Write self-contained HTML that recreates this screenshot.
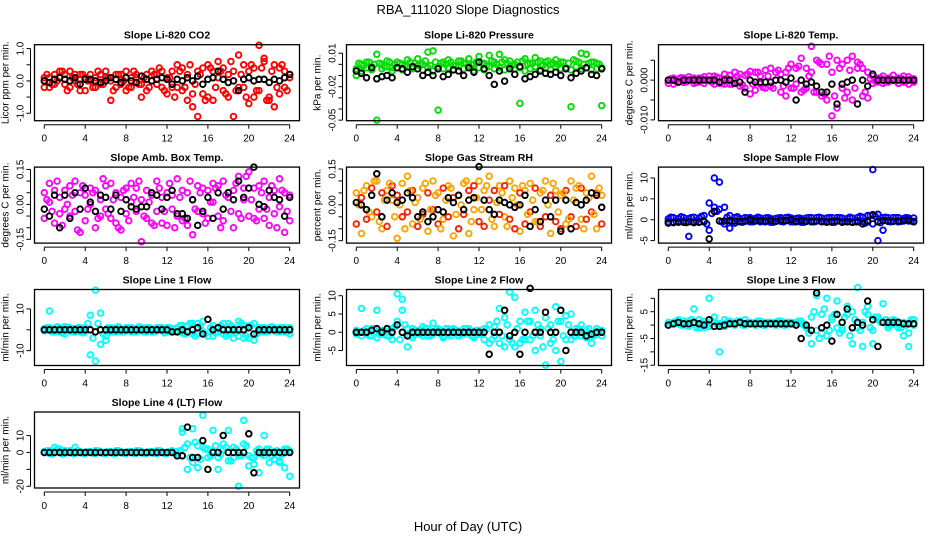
<!DOCTYPE html>
<html><head><meta charset="utf-8"><style>
html,body{margin:0;padding:0;background:#fff;}
svg{display:block;font-family:"Liberation Sans",Arial,sans-serif;}
</style></head><body>
<svg id="chart" width="936" height="540" viewBox="0 0 936 540" xmlns="http://www.w3.org/2000/svg">
<rect width="936" height="540" fill="#fff"/>
<text x="468" y="14" font-size="13" text-anchor="middle">RBA_111020  Slope Diagnostics</text>
<text x="468" y="531" font-size="13" text-anchor="middle">Hour of Day (UTC)</text>
</svg>
<script>
const hours=[0,0.5,1,1.5,2,2.5,3,3.5,4,4.5,5,5.5,6,6.5,7,7.5,8,8.5,9,9.5,10,10.5,11,11.5,12,12.5,13,13.5,14,14.5,15,15.5,16,16.5,17,17.5,18,18.5,19,19.5,20,20.5,21,21.5,22,22.5,23,23.5,24];
const hoursQ=[0.25,0.75,1.25,1.75,2.25,2.75,3.25,3.75,4.25,4.75,5.25,5.75,6.25,6.75,7.25,7.75,8.25,8.75,9.25,9.75,10.25,10.75,11.25,11.75,12.25,12.75,13.25,13.75,14.25,14.75,15.25,15.75,16.25,16.75,17.25,17.75,18.25,18.75,19.25,19.75,20.25,20.75,21.25,21.75,22.25,22.75,23.25,23.75];
const xTicks=[0,4,8,12,16,20,24];

const co2A=[0.1,-0.2,0.2,0.1,-0.1,0.3,0.2,-0.3,0.1,0.0,-0.2,0.2,0.1,-0.6,0.2,-0.1,0.3,-0.2,0.1,-0.5,0.2,0.0,-0.1,0.3,0.1,-0.2,0.5,-0.3,0.2,-0.4,-1.1,0.4,-0.5,0.3,0.6,-0.3,0.2,-1.1,0.8,-0.2,0.3,-0.5,1.1,0.7,-0.6,0.5,-0.4,0.3,0.2];
const co2B=[-0.2,0.1,-0.1,0.3,0.2,-0.2,0.0,0.2,-0.3,0.2,0.1,-0.1,0.3,0.0,-0.2,0.2,-0.3,0.1,0.2,-0.1,-0.3,0.3,0.2,-0.2,-0.4,0.3,-0.2,0.4,-0.6,-0.8,0.3,-0.4,0.5,-0.6,0.1,0.4,-0.5,0.3,-0.2,0.5,-0.7,0.4,-0.3,0.6,-0.5,-0.8,0.4,-0.2,0.1];
const co2C=[0.2,-0.1,0.0,0.3,-0.3,0.1,-0.1,0.2,0.0,-0.2,0.3,-0.1,0.1,-0.3,0.2,0.0,-0.2,0.3,-0.1,0.1,-0.2,0.2,0.4,-0.3,0.1,-0.5,0.3,-0.2,0.5,-0.1,0.2,-0.6,0.4,-0.2,0.3,-0.4,0.6,-0.3,0.2,-0.5,0.5,-0.3,0.4,-0.6,0.3,-0.2,0.5,-0.3];
const co2K=[0.0,-0.05,0.05,0.1,0.05,0.0,0.1,-0.1,0.05,0.05,0.0,-0.05,0.0,0.1,0.05,-0.05,0.1,0.0,-0.05,0.15,0.05,0.0,0.05,0.1,0.05,-0.1,0.05,0.0,0.1,0.0,0.15,-0.1,0.05,0.1,0.3,0.05,-0.05,0.0,-0.3,0.05,0.1,0.0,0.05,0.05,-0.05,0.05,0.0,0.1,0.2];

const presA=[-0.01,0.0,0.002,-0.002,0.009,0.0,0.003,-0.003,0.002,0.0,0.004,-0.002,0.005,0.0,0.011,0.012,-0.041,0.002,0.004,-0.001,0.003,0.001,0.005,0.0,0.007,0.001,0.008,0.002,0.009,0.004,0.003,0.0,-0.035,0.005,0.001,0.006,0.003,0.002,0.0,0.004,0.002,-0.003,-0.038,0.003,0.01,0.009,0.002,0.001,-0.037];
const presB=[-0.004,-0.006,-0.003,-0.005,-0.05,-0.004,-0.002,-0.006,-0.003,-0.005,-0.002,-0.004,-0.001,-0.005,-0.003,-0.006,-0.002,-0.004,-0.003,-0.005,-0.002,-0.004,-0.001,-0.006,-0.003,-0.005,-0.002,-0.004,-0.003,-0.005,-0.002,-0.004,-0.003,-0.006,-0.004,-0.002,-0.005,-0.003,-0.005,-0.002,-0.004,-0.003,-0.005,-0.002,-0.004,-0.003,-0.005,-0.004,-0.003];
const presC=[0.001,-0.001,0.002,0.0,0.001,-0.002,0.002,0.0,0.001,-0.001,0.002,0.001,0.0,0.003,-0.001,0.002,0.001,0.0,0.002,-0.001,0.003,0.001,0.0,0.002,0.001,-0.001,0.003,0.0,0.002,0.001,-0.001,0.002,0.003,0.0,0.001,0.002,-0.001,0.003,0.001,0.0,0.002,0.001,0.004,0.002,0.0,0.001,0.002,0.0];
const presK=[-0.006,-0.008,-0.012,-0.003,-0.013,-0.011,-0.01,-0.012,-0.003,-0.004,-0.007,-0.002,-0.004,-0.01,-0.007,-0.01,-0.004,-0.011,-0.009,-0.005,-0.006,-0.01,-0.003,-0.007,0.002,-0.004,-0.01,-0.018,-0.006,-0.015,-0.004,-0.009,-0.002,-0.013,-0.011,-0.009,-0.006,-0.008,-0.009,-0.007,-0.01,-0.004,-0.012,-0.008,-0.006,-0.003,-0.009,-0.01,-0.004];

const tempA=[0.0,0.0005,-0.0005,0.0005,0.0,0.0005,-0.0005,0.0008,0.0,0.001,0.0005,-0.001,0.0012,0.0,0.0015,-0.002,-0.0035,0.002,0.001,-0.002,0.003,0.0,-0.003,0.002,0.004,-0.001,0.0055,0.003,0.0085,-0.003,0.004,-0.005,-0.009,0.005,0.004,-0.003,0.006,0.003,-0.004,0.002,0.001,0.0005,0.001,0.0005,0.0012,0.0005,0.001,0.0008,0.0003];
const tempB=[-0.0008,-0.001,0.0003,-0.0006,0.0008,-0.0008,0.0005,-0.0008,0.001,-0.001,-0.0008,0.0015,-0.001,0.002,-0.0015,0.0012,0.0022,-0.0025,-0.001,0.0025,-0.0015,0.002,0.0015,-0.004,-0.002,0.003,-0.003,-0.002,0.002,0.005,-0.004,0.004,0.002,-0.007,-0.002,0.005,-0.005,0.0045,0.003,-0.0045,-0.0008,-0.0005,-0.0008,-0.0005,0.0,-0.0008,-0.0005,-0.001,-0.0005];
const tempC=[0.0003,-0.0003,0.0006,-0.0004,0.0002,-0.0006,0.0004,0.0,-0.0005,0.0007,-0.0008,0.0005,-0.001,0.001,-0.0012,0.0015,-0.001,0.002,-0.0018,0.001,-0.002,0.0025,-0.0015,0.003,-0.002,0.0035,-0.0025,0.001,-0.003,0.0045,-0.0035,0.006,-0.004,0.003,-0.0045,0.0025,-0.002,0.004,-0.003,0.0003,-0.0003,0.0005,-0.0004,0.0003,-0.0002,0.0004,-0.0003,0.0002];
const tempK=[0.0,0.0,-0.0005,0.0,0.0,0.0,0.0,0.0,0.0,0.0,-0.0005,0.0,0.0,-0.0008,-0.0005,-0.003,0.0,-0.0005,-0.0005,-0.0005,-0.0005,0.0,0.0,-0.0005,0.0005,-0.005,0.0,-0.001,-0.0005,-0.0015,-0.003,-0.003,-0.001,-0.006,-0.001,-0.0005,0.0,-0.006,0.0,-0.0015,0.0015,0.0,0.0,0.0,0.0,0.0,0.0,0.0,0.0];

const boxA=[0.05,0.09,-0.08,0.03,0.06,-0.05,0.1,-0.12,0.04,0.07,-0.1,0.02,0.08,-0.06,0.05,-0.11,0.07,0.09,-0.03,-0.16,0.06,-0.08,0.1,0.03,-0.09,0.04,0.11,-0.07,0.05,-0.13,0.08,-0.04,0.06,0.09,-0.05,0.1,0.03,-0.1,0.12,0.07,0.14,-0.06,0.08,0.1,-0.09,0.06,0.11,-0.12,0.04];
const boxB=[-0.06,0.01,0.06,-0.04,-0.02,0.08,-0.03,0.05,-0.07,0.0,0.06,-0.05,-0.02,0.09,-0.08,0.03,-0.04,0.01,0.07,0.02,-0.06,0.04,-0.03,-0.08,0.05,-0.02,-0.05,0.06,-0.09,0.02,-0.03,0.07,-0.06,0.01,0.08,-0.07,0.05,0.06,-0.04,0.02,-0.05,0.07,-0.02,-0.06,0.03,-0.04,-0.01,0.05,-0.07];
const boxC=[0.02,-0.03,0.1,-0.09,0.0,0.04,-0.11,0.08,-0.02,0.05,-0.06,0.11,-0.04,0.02,-0.1,0.06,-0.07,0.03,0.1,-0.05,0.01,-0.09,0.07,-0.03,0.09,-0.1,0.03,-0.06,0.1,-0.02,0.05,-0.08,0.01,0.07,-0.1,0.04,-0.03,0.09,-0.06,0.12,0.02,-0.07,0.05,-0.02,0.08,-0.1,0.06,-0.03];
const boxK=[-0.02,-0.05,0.04,-0.1,0.04,-0.06,0.05,-0.02,0.07,0.01,-0.03,0.04,0.03,-0.02,0.04,-0.03,0.02,-0.01,-0.02,-0.01,-0.01,0.05,0.04,-0.02,0.03,0.06,-0.04,-0.04,-0.06,0.02,-0.09,-0.03,0.03,-0.06,0.05,-0.02,0.05,0.02,0.1,0.03,0.07,0.16,0.0,-0.01,0.06,0.03,0.02,-0.05,0.03];

const rhA=[0.05,-0.12,0.08,-0.05,0.1,-0.1,0.06,0.02,-0.14,0.09,0.12,-0.08,0.03,0.07,-0.11,0.1,0.05,-0.06,0.08,-0.13,0.04,0.09,-0.12,-0.02,0.1,0.06,0.12,-0.09,0.08,-0.05,0.1,0.07,-0.11,0.06,0.09,-0.07,0.05,0.1,-0.12,0.06,0.04,-0.08,0.1,0.07,-0.06,0.05,0.12,-0.1,0.04];
const rhB=[-0.08,0.03,-0.06,0.07,-0.03,0.05,-0.09,0.08,0.04,-0.05,-0.03,0.06,-0.09,-0.04,0.05,-0.02,-0.08,0.07,-0.05,0.03,-0.1,-0.04,0.06,0.08,-0.07,-0.09,0.02,0.06,-0.04,0.08,-0.06,-0.1,0.05,-0.08,-0.03,0.07,-0.09,-0.05,0.04,-0.07,-0.1,0.06,-0.05,-0.09,0.07,-0.06,-0.03,0.05,-0.08];
const rhC=[0.0,0.06,-0.03,0.1,-0.07,0.02,0.09,-0.05,0.0,-0.1,0.06,0.01,-0.06,0.09,-0.02,0.04,-0.1,0.02,0.07,-0.04,0.0,0.1,-0.07,0.03,-0.02,0.08,-0.06,0.01,0.05,-0.09,0.03,0.0,0.08,-0.04,0.02,-0.07,0.06,0.0,0.09,-0.03,0.05,-0.06,0.02,0.08,-0.1,0.03,-0.04,0.07];
const rhK=[0.01,0.0,-0.02,0.04,0.13,-0.05,0.02,0.05,0.01,0.02,0.05,0.03,-0.05,-0.03,-0.07,-0.05,-0.02,-0.03,0.03,0.01,0.04,-0.02,0.02,0.03,0.16,0.02,-0.02,-0.04,0.02,0.01,0.0,-0.01,0.0,0.04,-0.09,-0.02,-0.07,0.02,-0.05,0.02,-0.11,0.02,-0.1,0.01,0.0,0.02,0.05,0.04,-0.01];

const sfA=[-0.5,0.5,0.3,-0.3,-4,0.6,0.4,-0.5,4,10,9,3,-2,0.5,0.3,-0.4,0.5,-0.3,0.4,-0.5,0.3,-0.4,0.5,-0.2,0.4,-0.5,0.3,-0.4,0.5,-0.3,0.4,-0.6,0.5,-0.3,0.4,-0.5,0.4,-0.3,0.6,-0.5,12,-5,-2.5,0.5,-0.4,0.5,0.3,-0.3,0.4];
const sfB=[0.2,-0.6,-0.4,0.5,0.3,-0.5,-0.6,1,-2.5,3,2.5,-1,1,-0.8,-0.5,0.5,-0.5,0.3,-0.5,0.4,-0.6,0.3,-0.4,0.5,-0.5,0.3,-0.6,0.4,-0.3,0.5,-0.5,0.4,-0.6,0.5,-0.4,0.3,-0.6,0.5,-0.4,1,-1,1.3,0.5,-0.4,0.5,-0.5,-0.3,0.4,-0.4];
const sfC=[0.6,-0.4,0.7,-0.7,0.5,-0.3,0.8,-1,1.5,2,-0.5,0.6,-0.5,0.7,-0.6,0.4,-0.5,0.6,-0.4,0.5,-0.6,0.4,-0.5,0.6,-0.5,0.4,-0.6,0.5,-0.5,0.6,-0.4,0.5,-0.6,0.5,-0.4,0.6,-0.5,0.8,-0.8,1,0.8,-0.7,0.6,-0.5,0.5,-0.4,0.5,-0.3];
const sfK=[-0.8,-0.7,-0.6,-0.6,-0.5,-0.7,-0.6,-0.4,-4.6,2,-0.3,-0.3,-0.2,-0.3,-0.4,-0.3,0.0,-0.3,-0.2,-0.3,-0.2,-0.4,-0.1,-0.2,0.0,-0.4,-0.2,-0.3,-0.5,-0.3,-0.4,-0.5,-0.4,-0.3,-0.6,-0.5,-0.6,-0.5,-1,-0.3,1.2,-0.5,-0.2,-0.3,-0.4,-0.3,-0.2,-0.1,-0.5];

const l1A=[0.5,9,-1,1,-2,1,0.5,-1,1,7,19,8,-5,1,-1,0.5,1,-1,0.5,1,-1,0.5,1,-0.5,1,0.5,-1,2,-1,3,-2,4,-3,2,-1,3,-2,1,4,-4,2,-5,-1,1,-0.5,1,-1,1,-2];
const l1B=[-0.5,1,0.5,-1,1.5,-0.5,-1,1,-1,-12,-15,-7,-3,-1,1,-1,-0.5,1,-1,-0.5,1,-1,-0.5,1,-1,-0.5,1,-1.5,2,-2,3,-1,5,-3,1,-2,3,-4,-3,2,-4,3,1,-1,1,-0.5,1,-1,1];
const l1C=[1,-1,1.5,-1.5,1,-1,1,-1.5,3,-4,3,-2,1,-1,1.5,-1,1,-1,1.5,-1,1,-1,1,-1.5,1,-1,2,-2,3,-3,2,-2,1,-1.5,2,-3,2,-1,3,-3,2,-2,1,-1,1.5,-1,1,-1];
const l1K=[0,0,0,0,0,0,0,0,0,0,-1,0,0,0,0,0,0,0,0,0,0,0,0,0,0,-1,-1,0,-1,0,1,-2,5,0,1,0,0,0,0,0,1,-2,0,0,0,0,0,0,0];

const l2A=[-0.5,6.5,1,-1,6,0.5,-1,1,10.5,9,-4,1,0.5,-1,1,2.5,0.5,-1,1,0.5,-1,1,0.5,-1,0.5,1,-3,-1,6.5,4,11,9.5,-3,5.5,-2,6,1,-9,2,7,-8,4.5,-2,1,-1,0.5,-3,1,0.5];
const l2B=[0.5,-1,-0.5,1,-1.5,-0.5,1,-2,3,6,1,-1.5,-0.5,1.5,-1,-0.5,1,-1.5,-0.5,1,-1,-0.5,1,-1.5,-0.5,-2,2,1.5,-3,-4,-2,-4,3,-2,3,-5,-1,4,-3,-5,3,-2,5,-1,2,-1.5,-1,-0.5,-1];
const l2C=[0,0.5,-1,1,-0.5,0.5,-1,1.5,-2,2,-1,0.5,-0.5,1,-1,0.5,-0.5,1,-1,0.5,-0.5,1,-1,0.5,-0.5,1,-2,3,-1,2,-3,1,-2,3,-1,2,-4,1,-2,3,-1,2,-1,1,-0.5,1,-1,0.5];
const l2K=[0,0,0,0.5,1,0,1,0,2,0,-1,0,0,0,0,0,0,0,0,0,0,0,0,0,0,0,-6,0,0,6,-1,0,-6,0,12,0,0,5.5,0,0,6,-5,0,0,0,-1,-0.5,0,0];

const l3A=[0,1,2,1.5,1.5,6,2,-1,10,3,-10,2,1,0.5,1,2,0.5,1,0.5,1,0.5,1,0.5,1,0.5,1,0.5,-1,-7,11,-3,10,2,9,-1,7,5,14,1,7,-7,3,8,0,2,0.5,-4,-8,0];
const l3B=[1,0.5,0.5,0,-0.5,0.5,-1,1.5,-0.5,1,0.5,-0.5,1.5,0,1.5,0,1,0,1.5,0,1,0,1.5,0,1,0,1.5,0,3,-2,4,-4,3,-1,-2,4,-7,-1,-8,4,-2,2,1,-1,0.5,-1,1,-3,2];
const l3C=[0.5,1.5,0,1,2,-1,1,0,1.5,0.5,-0.5,1,0.5,1.5,0,1,0.5,1.5,0,1,0.5,1.5,0,1,0.5,1.5,0,-3,5,-5,6,-2,4,-3,3,-4,2,-2,5,-1,3,1,2,0,1.5,-1,0,2];
const l3K=[0,0.5,1,0.5,0.5,1,0.5,0,2,-0.5,-0.5,0,0.5,0.5,1,0.5,0.5,0.5,0.5,0.5,0.5,0.5,0.5,0.5,0.5,0,-5,0,-2,12,-1,0,-6,4,1,6,-1,1,0,9,2,-8,1,1,1,1,0.5,0.5,0.5];

const l4A=[0.5,1,3,0.5,1,1,3,0.5,0,0.5,1,0.5,0,0.5,1,0.5,0,0.5,1,0.5,0,0.5,1,0.5,0,1,0.5,14,-10,14,4,22,2,13,-10,5,13,-3,-20,19,-2,-7,2,10,2,-4,-5,-9,-14];
const l4B=[0,-0.5,0.5,2,-0.5,0,-0.5,0.5,-0.5,0,-0.5,0,-0.5,0,-0.5,0,-0.5,0,-0.5,0,-0.5,0,-0.5,0,-0.5,0,-0.5,12,5,-6,-9,3,-3,1,-3,2,-5,3,-2,5,-8,-3,-12,-2,-6,0,-6,2,1];
const l4C=[1,-1,2,-1,0.5,-0.5,1,-0.5,0.5,-0.5,1,-0.5,0.5,-0.5,1,-0.5,0.5,-0.5,1,-0.5,0.5,-0.5,1,-0.5,0.5,-0.5,1,3,-3,6,-4,2,-2,4,-1,3,-5,2,-2,4,-3,1,-1,2,-2,1,-1,2];
const l4K=[0,0,0,0,0,0,0,0,0,0,0,0,0,0,0,0,0,0,0,0,0,0,0,0,0,0,-2,-2,15,-3,-3,7,-10,0,0,10,0,0,0,0,11,-12,0,0,0,0,0,0,0];

const panelTitles=["Slope Li-820 CO2","Slope Li-820 Pressure","Slope Li-820 Temp.","Slope Amb. Box Temp.","Slope Gas Stream RH","Slope Sample Flow","Slope Line 1 Flow","Slope Line 2 Flow","Slope Line 3 Flow","Slope Line 4 (LT) Flow"];
const yTitles=["Licor ppm per min.","kPa per min.","degrees C per min.","degrees C per min.","percent per min.","ml/min per min.","ml/min per min.","ml/min per min.","ml/min per min.","ml/min per min."];
const yTickVals=[[-1,-0.5,0,0.5,1],[0.01,0,-0.01,-0.02,-0.03,-0.04,-0.05],[0.005,0,-0.005,-0.01],[0.15,0.1,0.05,0,-0.05,-0.1,-0.15],[0.15,0.1,0.05,0,-0.05,-0.1,-0.15],[10,5,0,-5],[10,0,-10],[10,5,0,-5],[10,5,0,-5,-10,-15],[10,0,-10,-20]];
const yTickLabels=[["-1.0","","0.0","","1.0"],["0.01","","","-0.02","","","-0.05"],["","0.000","","-0.010"],["0.15","","","0.00","","","-0.15"],["0.15","","","0.00","","","-0.15"],["10","5","0","-5"],["10","","-10"],["10","5","0","-5"],["","5","","-5","","-15"],["10","0","","-20"]];
const yMins=[-1.23,-0.0505,-0.0102,-0.166,-0.16,-5.6,-17.1,-9.1,-15.1,-21];
const yMaxs=[1.12,0.0176,0.0089,0.16,0.158,12.6,19.3,11.7,13.3,23.9];
const seriesA=[co2A,presA,tempA,boxA,rhA,sfA,l1A,l2A,l3A,l4A];
const seriesB=[co2B,presB,tempB,boxB,rhB,sfB,l1B,l2B,l3B,l4B];
const seriesC=[co2C,presC,tempC,boxC,rhC,sfC,l1C,l2C,l3C,l4C];
const seriesK=[co2K,presK,tempK,boxK,rhK,sfK,l1K,l2K,l3K,l4K];
const colorsA=["#ff0000","#00dd00","#ff00ff","#ff00ff","#ffa500","#0000ff","#00ffff","#00ffff","#00ffff","#00ffff"];
const colorsB=["#ff0000","#00dd00","#ff00ff","#ff00ff","#ff2000","#0000ff","#00ffff","#00ffff","#00ffff","#00ffff"];
const colorsC=["#ff0000","#00dd00","#ff00ff","#ff00ff","#ffa500","#0000ff","#00ffff","#00ffff","#00ffff","#00ffff"];

const NS="http://www.w3.org/2000/svg";
const svg=document.getElementById('chart');
const colL=[34.5,346.5,658.5], rowT=[44.7,167.1,289.5,412], PW=265, PH=76;
function mk(tag,attrs,parent){const e=document.createElementNS(NS,tag);for(const k in attrs)e.setAttribute(k,attrs[k]);parent.appendChild(e);return e;}

for(let p=0;p<10;p++){
  const L=colL[p%3], T=rowT[Math.floor(p/3)];
  const g=mk('g',{},svg);
  
  
  const xs=h=>L+PW*(h+0.96)/25.92;
  const ys=v=>T+PH*(yMaxs[p]-v)/(yMaxs[p]-yMins[p]);
  const t=mk('text',{x:L+PW/2,y:T-6,'font-size':'10.5','font-weight':'bold','text-anchor':'middle'},g);
  t.textContent=panelTitles[p];
  
  
  const yt=mk('text',{transform:`translate(${L-26},${T+PH/2}) rotate(-90)`,'font-size':'10','text-anchor':'middle'},g);
  yt.textContent=yTitles[p];
  
  
  const drawSet=(xsArr,arr,col,name)=>{
    arr.forEach((v,i)=>{
      if(v===null)return;
      const c=mk('circle',{cx:xs(xsArr[i]).toFixed(1),cy:ys(v).toFixed(1),r:2.8,fill:'none',stroke:col,'stroke-width':1.9},g);
      
      
    });
  };
  drawSet(hours,seriesA[p],colorsA[p],'point-a');
  drawSet(hours,seriesB[p],colorsB[p],'point-b');
  drawSet(hoursQ,seriesC[p],colorsC[p],'point-c');
  drawSet(hours,seriesK[p],'#000','point-reference');
  const box=mk('rect',{x:L,y:T,width:PW,height:PH,fill:'none',stroke:'#000','stroke-width':1.3},g);
  
  
  const xa=mk('g',{},g);
  
  
  mk('line',{x1:xs(0),x2:xs(24),y1:T+PH+4,y2:T+PH+4,stroke:'#000'},xa);
  xTicks.forEach(h=>{
    mk('line',{x1:xs(h),x2:xs(h),y1:T+PH+4,y2:T+PH+8,stroke:'#000'},xa);
    const tl=mk('text',{x:xs(h),y:T+PH+21,'font-size':'10','text-anchor':'middle'},xa);
    tl.textContent=String(h);
    
    
  });
  const ya=mk('g',{},g);
  
  
  const tv=yTickVals[p];
  mk('line',{x1:L-4,x2:L-4,y1:ys(Math.max(...tv)),y2:ys(Math.min(...tv)),stroke:'#000'},ya);
  tv.forEach((v,i)=>{
    mk('line',{x1:L-8,x2:L-4,y1:ys(v),y2:ys(v),stroke:'#000'},ya);
    if(yTickLabels[p][i]){
      const tl=mk('text',{transform:`translate(${L-11},${ys(v)}) rotate(-90)`,'font-size':'10','text-anchor':'middle'},ya);
      tl.textContent=yTickLabels[p][i];
      
      
    }
  });
}
</script>
</body></html>
